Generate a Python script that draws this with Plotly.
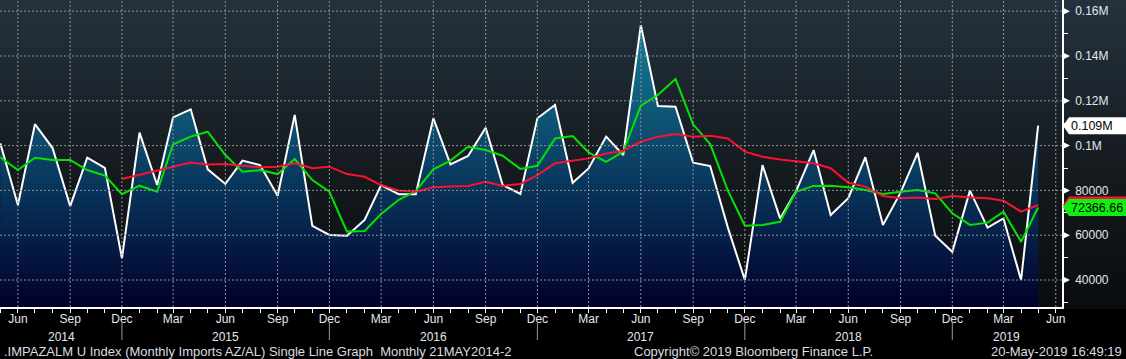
import base64
import pandas as pd
import plotly.graph_objects as go

# ---------------- data ----------------
months = pd.date_range("2014-05-01", "2019-05-01", freq="MS")

imports = [101000, 73500, 109600, 98900, 73000, 94600, 90100, 49700,
           105800, 82400, 112600, 116200, 89400, 82900, 93300, 91300, 77600, 113700, 64200, 60100,
           59800, 66800, 82400, 78300, 78300, 112200, 91600, 95400, 108000, 82400, 78400, 112200,
           118100, 83400, 89800, 104000, 95800, 153800, 117700, 117400, 92400, 90900, 63500, 40000,
           91300, 67500, 79600, 98000, 69000, 76500, 94800, 64600, 79000, 96800, 59800, 52600,
           79900, 63400, 67500, 40000, 108900]

avg3 = [94800, 89100, 94600, 93600, 93600, 89100, 86600, 78300,
        82100, 79400, 100600, 104000, 106200, 95800, 88300, 89100, 87300, 94000, 84600, 79400,
        61600, 61900, 69500, 75800, 79700, 89400, 93300, 99500, 98000, 95500, 89600, 91000,
        103200, 104300, 97000, 92700, 97300, 117800, 122600, 129700, 109500, 100700, 80000, 64200,
        64600, 66000, 79400, 82000, 82100, 81400, 80200, 78400, 79400, 80200, 78700, 69800,
        64600, 65600, 70500, 57100, 72366.66]

avg12 = [None, None, None, None, None, None, None, 85100,
         86900, 88800, 90600, 92400, 91600, 91800, 91000, 90300, 90600, 92100, 89900, 90600,
         87300, 86100, 82400, 79900, 79400, 81400, 81700, 82000, 83900, 82000, 82900, 86800,
         92100, 93100, 94300, 96500, 97700, 101700, 104000, 105200, 104000, 104400, 103200, 97300,
         95000, 93800, 93000, 92100, 89900, 83400, 81700, 77500, 76500, 76800, 76200, 77500,
         76800, 76500, 75400, 70500, 73500]

y_range = [27950, 165000]
y_tickvals = [40000, 60000, 80000, 100000, 120000, 140000, 160000]
y_ticktext = ["40000", "60000", "80000", "0.1M", "0.12M", "0.14M", "0.16M"]
y_minor = [30000, 50000, 70000, 90000, 110000, 130000, 150000]

x_range = ["2014-04-30 12:00", "2019-06-12"]
x_grid = pd.date_range("2014-06-01", "2019-06-01", freq="3MS")

years = ["2014", "2015", "2016", "2017", "2018", "2019"]
year_centers = ["2014-08-16", "2015-06-01", "2016-06-01", "2017-06-01", "2018-06-01", "2019-03-07"]
year_breaks = ["2014-12-01", "2015-12-01", "2016-12-01", "2017-12-01", "2018-12-01"]

footer_left = ".IMPAZALM U Index (Monthly Imports AZ/AL) Single Line Graph  Monthly 21MAY2014-2"
footer_mid = "Copyright\u00a9 2019 Bloomberg Finance L.P."
footer_right = "20-May-2019 16:49:19"

# ---------------- styles ----------------
W, H = 1126, 359
ML, MR, MT, MB = 0, 64, 0, 52
PW = W - ML - MR
PH = H - MT - MB
FONT = "Liberation Sans, Arial, sans-serif"
TXT = "#e2e8ee"
WHITE = "#ffffff"
GREEN = "#00e400"
RED = "#ff1030"
GRID = "#8e9398"

svg = (
    f'<svg xmlns="http://www.w3.org/2000/svg" width="{W}" height="{H}" viewBox="0 0 {W} {H}" '
    'preserveAspectRatio="none"><defs><linearGradient id="g" x1="0" y1="0" x2="0" y2="1">'
    '<stop offset="0" stop-color="#24323e"/><stop offset="0.5" stop-color="#161c21"/>'
    '<stop offset="1" stop-color="#0a0c0e"/></linearGradient></defs>'
    f'<rect x="0" y="0" width="{W}" height="{PH + 2}" fill="url(#g)"/>'
    f'<rect x="0" y="{PH + 2}" width="{W}" height="{H - PH - 2}" fill="#000000"/></svg>'
)
bg_src = "data:image/svg+xml;base64," + base64.b64encode(svg.encode()).decode()

fig = go.Figure()

fig.add_trace(go.Scatter(
    x=months, y=imports, mode="lines",
    line=dict(color=WHITE, width=2),
    fill="tozeroy",
    fillgradient=dict(type="vertical",
                      colorscale=[[0, "#01002c"], [0.45, "#0a3d62"], [1, "#168aa0"]],
                      start=y_range[0], stop=y_range[1]),
    hoverinfo="skip",
))
fig.add_trace(go.Scatter(x=months, y=avg3, mode="lines",
                         line=dict(color=GREEN, width=2), hoverinfo="skip"))
fig.add_trace(go.Scatter(x=months, y=avg12, mode="lines",
                         line=dict(color=RED, width=2), hoverinfo="skip"))

shapes = []
# dotted grid drawn above the area fill
for d in x_grid:
    shapes.append(dict(type="line", xref="x", yref="paper", x0=d, x1=d, y0=0, y1=1,
                       line=dict(color=GRID, width=1, dash="2px,2px"), layer="above"))
for v in y_tickvals:
    shapes.append(dict(type="line", xref="paper", yref="y", x0=0, x1=1, y0=v, y1=v,
                       line=dict(color=GRID, width=1, dash="2px,2px"), layer="above"))
# right-axis triangular tick markers
for v in y_tickvals:
    shapes.append(dict(type="path", xref="paper", yref="y",
                       xsizemode="pixel", ysizemode="pixel", xanchor=1, yanchor=v,
                       path="M1,3.5 L8,0 L1,-3.5 Z",
                       fillcolor=WHITE, line=dict(width=0), layer="above"))
# year separators below axis
for d in year_breaks:
    shapes.append(dict(type="line", xref="x", yref="paper", x0=d, x1=d,
                       y0=-16 / PH, y1=-33 / PH, line=dict(color="#9a9a9a", width=1)))

# last-value labels (pointer boxes)
label_path = "M1,0 L7,8.5 L64,8.5 L64,-8.5 L7,-8.5 Z"
for val, col in [(avg12[-1], RED), (avg3[-1], "#10f010"), (imports[-1], WHITE)]:
    shapes.append(dict(type="path", xref="paper", yref="y",
                       xsizemode="pixel", ysizemode="pixel", xanchor=1, yanchor=val,
                       path=label_path, fillcolor=col, line=dict(width=0), layer="above"))

annotations = []
annotations.append(dict(xref="paper", yref="y", x=1, y=imports[-1], xshift=7,
                        xanchor="left", yanchor="middle", showarrow=False,
                        text=f"{imports[-1] / 1e6:.3f}M",
                        font=dict(family=FONT, size=12.5, color="#000000")))
annotations.append(dict(xref="paper", yref="y", x=1, y=avg3[-1], xshift=7,
                        xanchor="left", yanchor="middle", showarrow=False,
                        text=f"{avg3[-1]:.2f}",
                        font=dict(family=FONT, size=12.5, color="#000000")))
for yr, c in zip(years, year_centers):
    annotations.append(dict(xref="x", yref="paper", x=c, y=-29.5 / PH,
                            xanchor="center", yanchor="middle", showarrow=False, text=yr,
                            font=dict(family=FONT, size=12, color=TXT)))
annotations.append(dict(xref="paper", yref="paper", x=2 / PW, y=-44 / PH, xanchor="left",
                        yanchor="middle", showarrow=False, text=footer_left,
                        font=dict(family=FONT, size=13, color="#d8dde2")))
annotations.append(dict(xref="paper", yref="paper", x=632 / PW, y=-44 / PH, xanchor="left",
                        yanchor="middle", showarrow=False, text=footer_mid,
                        font=dict(family=FONT, size=13, color="#d8dde2")))
annotations.append(dict(xref="paper", yref="paper", x=(W - 2) / PW, y=-44 / PH, xanchor="right",
                        yanchor="middle", showarrow=False, text=footer_right,
                        font=dict(family=FONT, size=13, color="#d8dde2")))

fig.update_layout(
    width=W, height=H,
    margin=dict(l=ML, r=MR, t=MT, b=MB, pad=0),
    paper_bgcolor="#000000",
    plot_bgcolor="rgba(0,0,0,0)",
    showlegend=False,
    font=dict(family=FONT, size=12, color=TXT),
    images=[dict(source=bg_src, xref="paper", yref="paper", x=0, y=1,
                 sizex=W / PW, sizey=H / PH, xanchor="left", yanchor="top",
                 sizing="stretch", layer="below")],
    shapes=shapes,
    annotations=annotations,
    xaxis=dict(
        type="date", range=x_range, showgrid=False, zeroline=False,
        tickmode="linear", tick0="2014-06-01", dtick="M3", tickformat="%b",
        ticks="outside", ticklen=4, tickwidth=1, tickcolor=WHITE,
        ticklabelstandoff=-4,
        tickfont=dict(family=FONT, size=12, color=TXT),
        showline=True, linecolor=WHITE, linewidth=2,
        minor=dict(dtick="M1", tick0="2014-05-01", ticks="outside", ticklen=4,
                   tickcolor=WHITE, tickwidth=1, showgrid=False),
    ),
    yaxis=dict(
        side="right", range=y_range, showgrid=False, zeroline=False,
        tickmode="array", tickvals=y_tickvals, ticktext=y_ticktext,
        ticks="outside", ticklen=9, tickcolor="rgba(0,0,0,0)",
        tickfont=dict(family=FONT, size=12, color=TXT),
        showline=True, linecolor=WHITE, linewidth=1.5,
        minor=dict(tickmode="array", tickvals=y_minor, ticks="outside", ticklen=4,
                   tickcolor=WHITE, tickwidth=1, showgrid=False),
    ),
)

fig.write_html(
    "out.html",
    config={"displayModeBar": False},
    post_script="document.body.style.margin='0';document.body.style.overflow='hidden';",
)
